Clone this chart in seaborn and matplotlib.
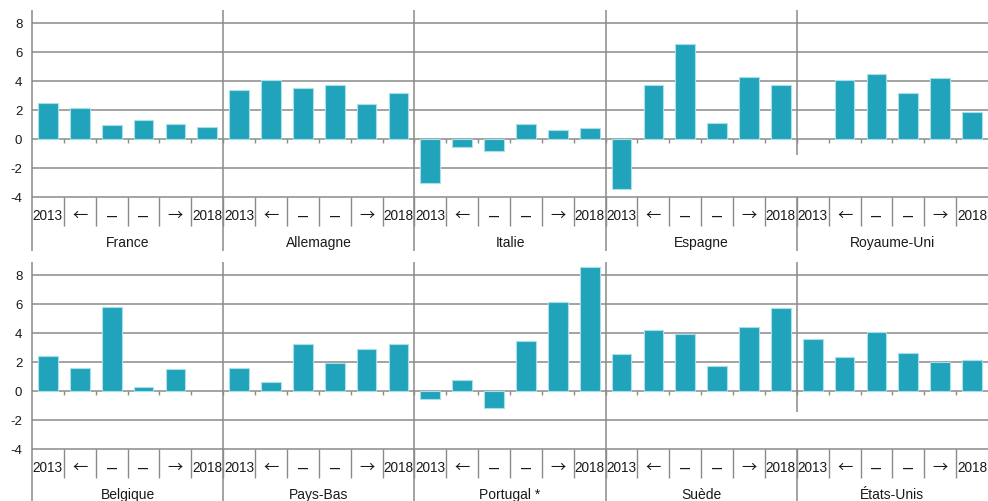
import matplotlib
matplotlib.use("Agg")
import matplotlib.pyplot as plt
import numpy as np
import pandas as pd
import seaborn as sns

# ---------------- data ----------------
cell_labels = ["2013", "←", "–", "–", "→", "2018"]

countries_top = ["France", "Allemagne", "Italie", "Espagne", "Royaume-Uni"]
countries_bottom = ["Belgique", "Pays-Bas", "Portugal *", "Suède", "États-Unis"]

france = [2.49, 2.12, 0.99, 1.31, 1.01, 0.85]
allemagne = [3.39, 4.08, 3.53, 3.71, 2.40, 3.20]
italie = [-3.06, -0.55, -0.81, 1.06, 0.60, 0.76]
espagne = [-3.48, 3.73, 6.57, 1.13, 4.26, 3.71]
royaume_uni = [np.nan, 4.06, 4.49, 3.16, 4.22, 1.89]

belgique = [2.45, 1.57, 5.83, 0.28, 1.50, np.nan]
pays_bas = [1.57, 0.62, 3.24, 1.92, 2.91, 3.26]
portugal = [-0.55, 0.76, -1.16, 3.45, 6.15, 8.53]
suede = [2.54, 4.21, 3.93, 1.71, 4.42, 5.76]
etats_unis = [3.58, 2.36, 4.09, 2.59, 1.97, 2.13]

values_top = [france, allemagne, italie, espagne, royaume_uni]
values_bottom = [belgique, pays_bas, portugal, suede, etats_unis]

y_ticks = [-4, -2, 0, 2, 4, 6, 8]

# ---------------- style ----------------
sns.set_style("white")
plt.rcParams["font.family"] = ["Liberation Sans", "DejaVu Sans"]

BAR = "#22a3bc"
EDGE = "#a8e0ea"
GRID = "#8a8a8a"
TXT = "#1a1a1a"

fig = plt.figure(figsize=(9.88, 5.01), dpi=100)

W, H = 988, 501
left = 32 / W
width = (988 - 32) / W
rows = [
    dict(bottom=1 - 197 / H, top=1 - 10 / H, countries=countries_top, vals=values_top,
         short_sep=-1.1),
    dict(bottom=1 - 449 / H, top=1 - 262 / H, countries=countries_bottom, vals=values_bottom,
         short_sep=-1.45),
]

YMIN, YMAX = -4, 8.9
for r in rows:
    ax = fig.add_axes([left, r["bottom"], width, r["top"] - r["bottom"]])
    keys, vals = [], []
    for c, v in zip(r["countries"], r["vals"]):
        for i, val in enumerate(v):
            keys.append(f"{c}|{i}")
            vals.append(val)
    df = pd.DataFrame({"key": keys, "value": vals})
    sns.barplot(data=df, x="key", y="value", order=keys, color=BAR, saturation=1,
                width=0.62, edgecolor=EDGE, linewidth=0.8, errorbar=None, ax=ax, zorder=3)
    n = len(keys)
    ax.set_xlim(-0.5, n - 0.5)
    ax.set_ylim(YMIN, YMAX)
    ax.set_yticks(y_ticks)
    ax.set_yticklabels([str(t) for t in y_ticks], fontsize=9.5, color=TXT)
    ax.tick_params(axis="y", length=3, color=GRID, pad=4)
    ax.set_xticks([])
    ax.set_xlabel("")
    ax.set_ylabel("")
    for s in ax.spines.values():
        s.set_visible(False)
    ax.set_facecolor("none")

    # horizontal grid lines
    ax.hlines(y_ticks, -0.5, n - 0.5, color=GRID, lw=1.1, zorder=1, clip_on=False)

    # y axis line
    ax.vlines(-0.5, -7.7, YMAX, color=GRID, lw=1.1, zorder=4, clip_on=False)

    # small ticks under zero line and cell separators
    for k in range(n - 1):
        x = k + 0.5
        ax.vlines(x, -0.3, 0, color=GRID, lw=1.0, zorder=2, clip_on=False)
        ax.vlines(x, -6.0, -4, color=GRID, lw=1.0, zorder=2, clip_on=False)

    # country separators
    ng = len(r["countries"])
    for g in range(1, ng):
        x = g * 6 - 0.5
        if g == ng - 1:
            ax.vlines(x, r["short_sep"], YMAX, color=GRID, lw=1.1, zorder=4, clip_on=False)
            ax.vlines(x, -7.7, -4, color=GRID, lw=1.1, zorder=4, clip_on=False)
        else:
            ax.vlines(x, -7.7, YMAX, color=GRID, lw=1.1, zorder=4, clip_on=False)

    # cell labels
    for k in range(n):
        lab = cell_labels[k % 6]
        if lab in ("←", "→"):
            ax.text(k, -5.3, lab, ha="center", va="center", fontsize=11,
                    family=["Noto Sans CJK JP", "DejaVu Sans"], color=TXT, clip_on=False)
        elif lab == "–":
            ax.text(k, -5.3, lab, ha="center", va="center", fontsize=13,
                    color=TXT, clip_on=False)
        else:
            ax.text(k, -5.3, lab, ha="center", va="center", fontsize=9.8,
                    color=TXT, clip_on=False)
    # country names
    for g, c in enumerate(r["countries"]):
        ax.text(g * 6 + 2.5, -7.2, c, ha="center", va="center",
                fontsize=10, color=TXT, clip_on=False)

fig.savefig("out.png", dpi=100)
